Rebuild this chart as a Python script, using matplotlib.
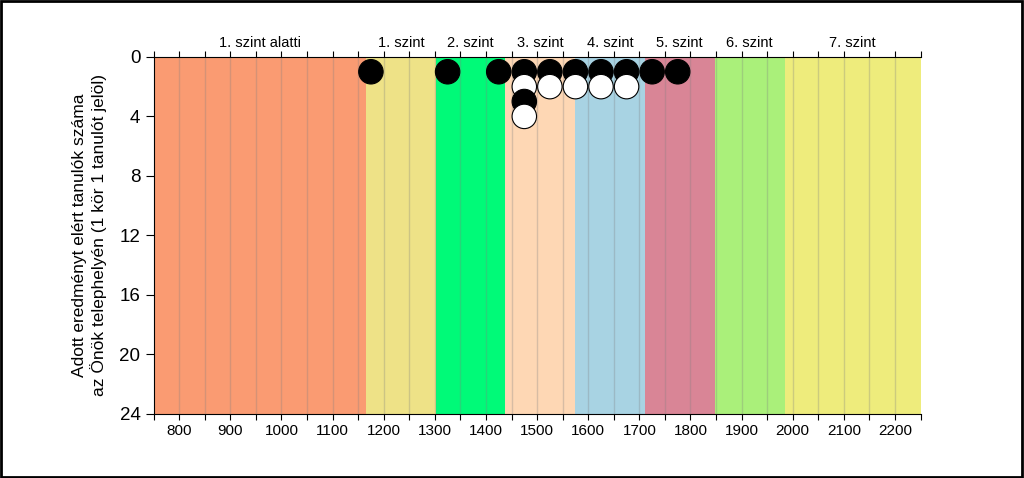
import numpy as np
import matplotlib.pyplot as plt
from matplotlib.patches import Rectangle

plt.rcParams['font.family'] = ['Liberation Sans', 'DejaVu Sans']

# score bands (levels) and their colours
band_edges = [750, 1165, 1302, 1438, 1574, 1711, 1847, 1984, 2250]
band_labels = ["1. szint alatti", "1. szint", "2. szint", "3. szint",
               "4. szint", "5. szint", "6. szint", "7. szint"]
band_colors = ["#FA9B72", "#EEE287", "#00FA78", "#FED7B4",
               "#A8D3E3", "#D98596", "#AAF07A", "#EEEC7C"]

# students per 50-point bin (bin centres)
bin_centers = [1175, 1325, 1425, 1475, 1525, 1575, 1625, 1675, 1725, 1775]
counts = [1, 1, 1, 4, 2, 2, 2, 2, 1, 1]

fig = plt.figure(figsize=(10.24, 4.78), dpi=100)
ax = fig.add_axes([0.150, 0.134, 0.749, 0.747])

for i in range(len(band_labels)):
    lo, hi = band_edges[i], band_edges[i + 1]
    ax.add_patch(Rectangle((lo, 0), hi - lo, 24, color=band_colors[i], zorder=0, lw=0))
    ax.text((lo + hi) / 2, 1.02, band_labels[i], transform=ax.get_xaxis_transform(),
            ha="center", va="bottom", fontsize=10.5)

# vertical grid every 50
for gx in np.arange(800, 2250, 50):
    ax.axvline(gx, color="#808080", alpha=0.3, lw=1, zorder=1)

# stacked dots, alternating black / white
xs, ys, cs = [], [], []
for c, n in zip(bin_centers, counts):
    for k in range(1, n + 1):
        xs.append(c)
        ys.append(k)
        cs.append("black" if k % 2 == 1 else "white")
ax.scatter(xs, ys, s=310, c=cs, edgecolors="black", linewidths=0.8, zorder=3)

ax.set_xlim(750, 2250)
ax.set_ylim(24, 0)
ax.set_xticks(np.arange(800, 2201, 100))
ax.set_xticks(np.arange(750, 2251, 50), minor=True)
ax.set_yticks(np.arange(0, 25, 4))
ax.tick_params(axis="x", which="both", top=True, length=4, labelsize=11, width=0.8)
ax.tick_params(axis="y", length=6, labelsize=13.5, width=0.8)
ax.spines["right"].set_visible(False)

ax.set_ylabel("Adott eredményt elért tanulók száma\naz Önök telephelyén (1 kör 1 tanulót jelöl)",
              fontsize=12.5, labelpad=9)

fig.patches.append(Rectangle((0.001, 0.002), 0.997, 0.995, transform=fig.transFigure,
                             fill=False, edgecolor="black", lw=2))

fig.savefig("out.png", dpi=100)
